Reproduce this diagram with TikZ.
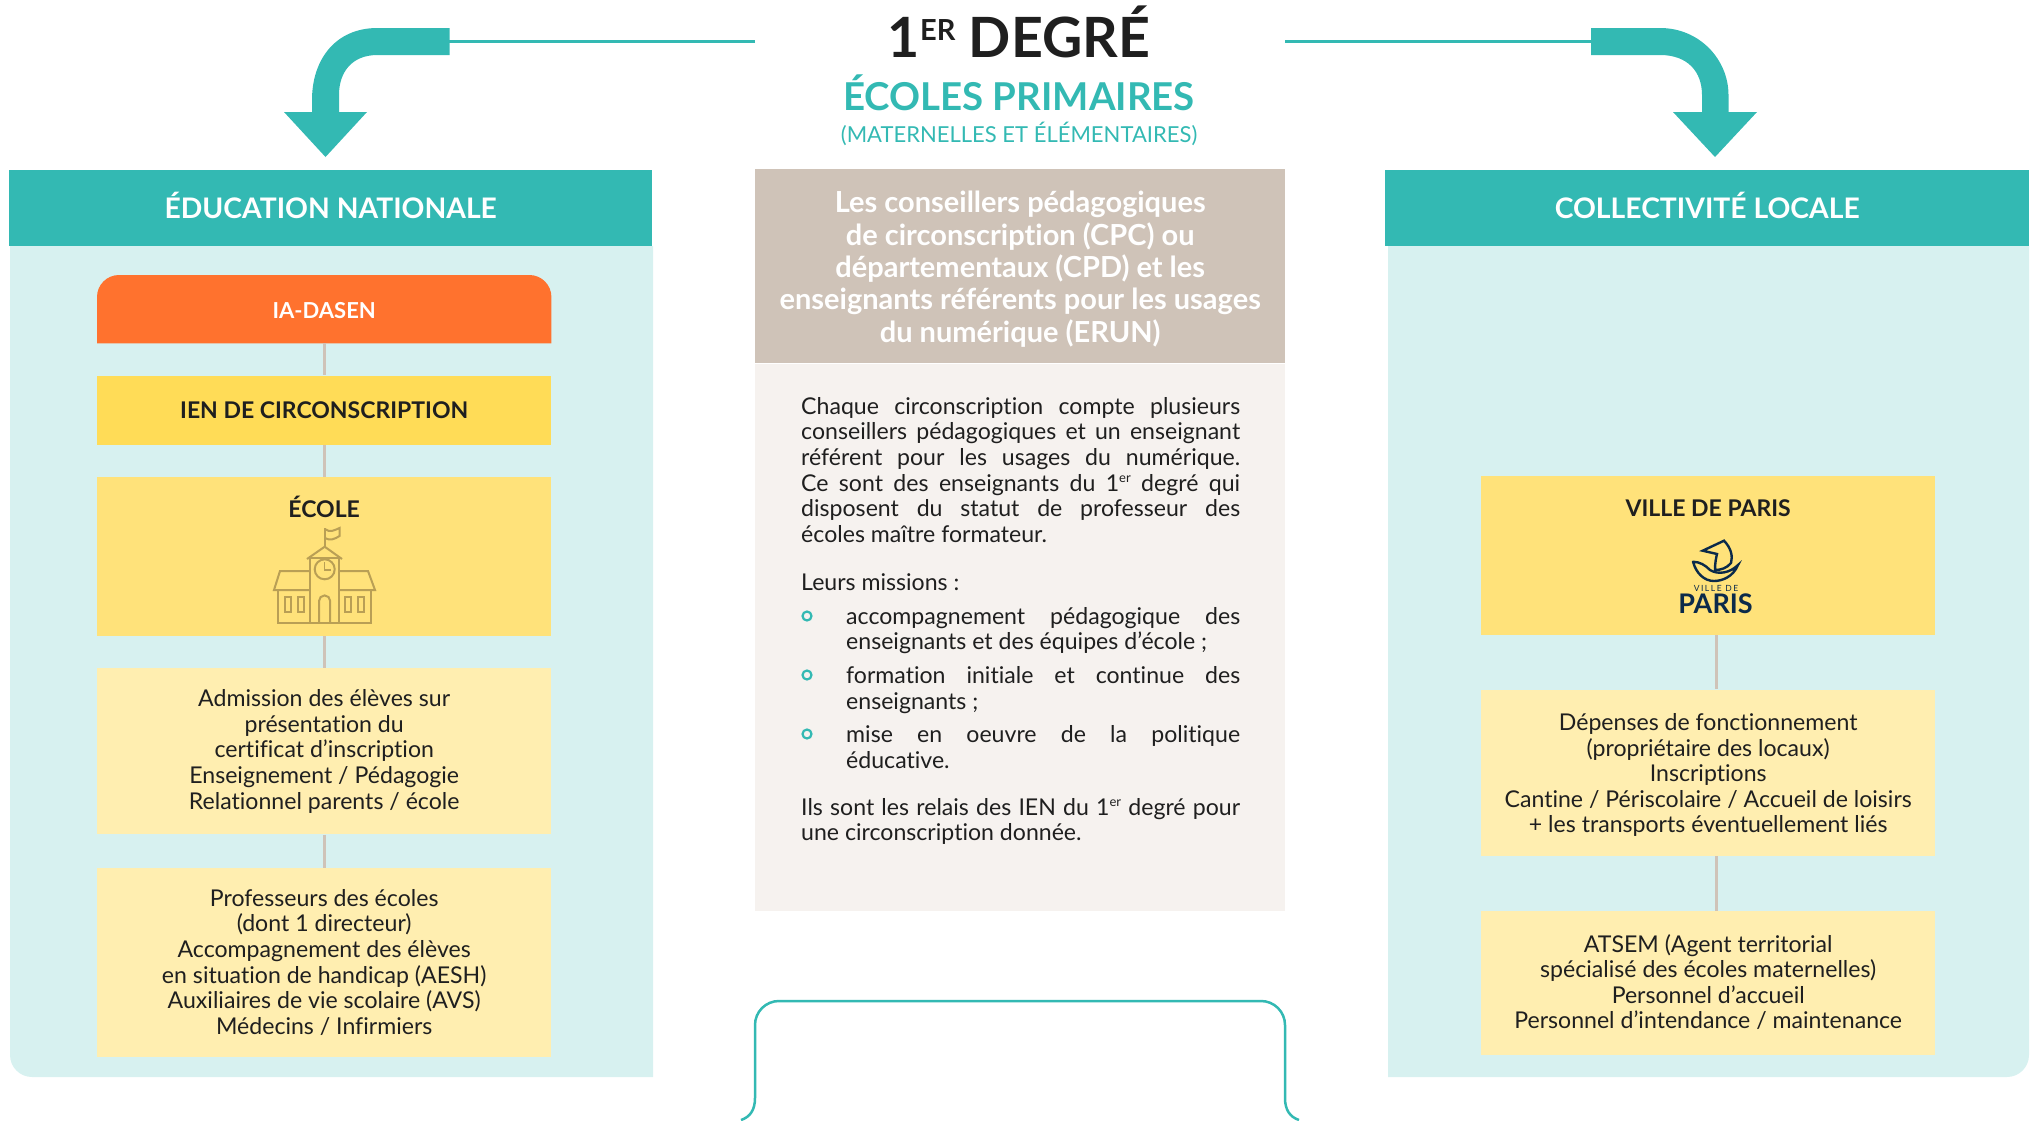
\documentclass[tikz,border=0pt]{standalone}
\usepackage{xcolor}
\usepackage{fontspec}
\usepackage{tikz}
\usetikzlibrary{positioning,calc}
\setmainfont{Lato}[Ligatures=NoCommon]

\definecolor{teal1}{HTML}{33B9B3}
\definecolor{pale1}{HTML}{D7F1F0}
\definecolor{orange1}{HTML}{FF722E}
\definecolor{yellow1}{HTML}{FFDC57}
\definecolor{yellow2}{HTML}{FFE27A}
\definecolor{yellow3}{HTML}{FFEEB0}
\definecolor{tan1}{HTML}{CFC3B8}
\definecolor{cream1}{HTML}{F6F2EF}
\definecolor{ink1}{HTML}{1F1F1F}
\definecolor{icon1}{HTML}{B99F55}
\definecolor{navy1}{HTML}{0B2A4A}

\newcommand{\expoer}{\raisebox{8.5pt}{\fontsize{13}{13}\selectfont er}}

\tikzset{
  bodyfont/.style={font=\fontsize{23.1}{25.6}\selectfont},
  headbox/.style={anchor=north west, inner sep=0pt, fill=teal1, text=white, minimum height=76pt, text height=24pt, text depth=3pt, font=\fontsize{28.3}{32}\selectfont\bfseries},
  orgbox/.style={inner sep=0pt, minimum width=454pt, text=ink1, align=center, bodyfont},
  orgtitle/.style={text=ink1, inner sep=0pt, font=\fontsize{23}{26}\selectfont\bfseries},
  trunk/.style={draw=tan1, line width=3pt},
  para/.style={anchor=north west, inner sep=0pt, text=ink1, align=justify, bodyfont},
  puce/.style={circle, draw=teal1, line width=2.2pt, inner sep=0pt, minimum size=9pt},
  schoolline/.style={draw=icon1, line width=2pt, line join=miter},
  logoline/.style={draw=navy1, line width=2.4pt, line cap=round},
}

\begin{document}
\begin{tikzpicture}[x=1pt,y=-1pt]
      \useasboundingbox (0,0) rectangle (2035,1120);

      \fill[pale1] (10,246) [rounded corners=22pt] -- (10,1077) [sharp corners] -- (653,1077) -- (653,246) -- cycle;
      \fill[pale1] (1388,246) -- (1388,1077) [rounded corners=22pt] -- (2029,1077) [sharp corners] -- (2029,246) -- cycle;

      \node[headbox, minimum width=643pt] (educnat) at (9,170) {ÉDUCATION NATIONALE};
      \node[headbox, minimum width=644pt] (collectivite) at (1385,170) {COLLECTIVITÉ LOCALE};

      \node[orgbox, anchor=north west, minimum height=68pt] (iadasen) at (97,275) {};
      \fill[orange1] (iadasen.south west) [rounded corners=22pt] -- (iadasen.north west) -- (iadasen.north east) [sharp corners] -- (iadasen.south east) -- cycle;
      \node[orgtitle, text=white, font=\fontsize{22}{26}\selectfont\bfseries] (iadasenlabel) at ([yshift=-1pt]iadasen.center) {IA-DASEN};

      \node[orgbox, below = 32pt of iadasen, minimum height=69pt, fill=yellow1, orgtitle] (ien) {IEN DE CIRCONSCRIPTION};
      \node[orgbox, below = 32pt of ien, minimum height=159pt, fill=yellow2] (ecole) {};
      \node[orgbox, below = 32pt of ecole, minimum height=166pt, fill=yellow3] (admission) {Admission des élèves sur\\présentation du\\certificat d’inscription\\Enseignement / Pédagogie\\Relationnel parents / école};
      \node[orgbox, below = 33pt of admission, minimum height=189pt, fill=yellow3] (profs) {Professeurs des écoles\\(dont 1 directeur)\\Accompagnement des élèves\\en situation de handicap (AESH)\\Auxiliaires de vie scolaire (AVS)\\Médecins / Infirmiers};
      \node[orgtitle, below = 19pt of ecole.north] (ecolelabel) {ÉCOLE};

      \draw[trunk] (iadasen) -- (ien);
      \draw[trunk] (ien) -- (ecole);
      \draw[trunk] (ecole) -- (admission);
      \draw[trunk] (admission) -- (profs);

      \draw[schoolline] (278,590) -- (278,623) -- (371,623) -- (371,590);
      \draw[schoolline] (310,623) -- (310,558) -- (339,558) -- (339,623);
      \draw[schoolline] (307,559) -- (324.7,546.7) -- (342,559);
      \draw[schoolline] (310,571) -- (280,571) -- (274,590) -- (310,590);
      \draw[schoolline] (339,571) -- (368,571) -- (375,590) -- (339,590);
      \draw[schoolline] (324.7,569.3) circle (10);
      \draw[schoolline, line width=1.5pt] (324.7,562) -- (324.7,570) -- (331,570);
      \draw[schoolline] (319,623) -- (319,601) arc (180:360:5.6) -- (330.2,623);
      \foreach \winx in {285,298,344.5,357.5}
        \draw[schoolline] (\winx,597) rectangle (\winx+6,612);
      \draw[schoolline] (324.7,546.7) -- (324.7,528);
      \draw[schoolline] (324.7,529) .. controls (330,533) and (335,530) .. (339.5,528) -- (339.5,536) .. controls (335,539) and (330,541) .. (324.7,538);

      \node[orgbox, anchor=north west, minimum height=159pt, fill=yellow2] (ville) at (1481,476) {};
      \node[orgbox, below = 54pt of ville, minimum height=166pt, fill=yellow3] (depenses) {};
      \node[orgbox, below = 55pt of depenses, minimum height=144pt, fill=yellow3] (atsem) {};
      \node[orgtitle, below = 23pt of ville.north] (villelabel) {VILLE DE PARIS};
      \node[orgbox, fill=none] (depensestexte) at ([yshift=-2.5pt]depenses.center) {Dépenses de fonctionnement\\(propriétaire des locaux)\\Inscriptions\\Cantine / Périscolaire / Accueil de loisirs\\+ les transports éventuellement liés};
      \node[orgbox, fill=none] (atsemtexte) at ([yshift=1pt]atsem.center) {ATSEM (Agent territorial\\spécialisé des écoles maternelles)\\Personnel d’accueil\\Personnel d’intendance / maintenance};

      \draw[trunk] ([xshift=8pt]ville.south) -- ([xshift=8pt]depenses.north);
      \draw[trunk] ([xshift=8pt]depenses.south) -- ([xshift=8pt]atsem.north);

      \draw[logoline] (1702.7,550.7) -- (1724,540.7) .. controls (1731,548) and (1733,556) .. (1731,563) .. controls (1727,568) and (1721,570) .. (1715,570) .. controls (1715,563) and (1716,558) .. (1717,554) -- cycle;
      \draw[logoline] (1693,561.7) .. controls (1700,562) and (1705,565) .. (1710,570) .. controls (1718,575) and (1730,573) .. (1738,565) .. controls (1733,577) and (1722,581) .. (1714,581) .. controls (1704,581) and (1696,573) .. (1693,561.7);
      \node[inner sep=0pt, text=navy1, font=\fontsize{8.5}{10}\addfontfeature{LetterSpace=18}\selectfont] (villede) at (1716,588) {VILLE DE};
      \node[inner sep=0pt, text=navy1, font=\fontsize{27}{28}\selectfont\bfseries] (parislogo) at (1715.5,604) {PARIS};

      \node[inner sep=0pt, text=ink1, font=\fontsize{55.5}{60}\selectfont\bfseries] (degre) at (1019,32) {1\raisebox{17pt}{\fontsize{29}{29}\selectfont ER} DEGRÉ};
      \node[inner sep=0pt, below = 16pt of degre, text=teal1, font=\fontsize{38.4}{42}\selectfont\bfseries] (primaires) {ÉCOLES PRIMAIRES};
      \node[inner sep=0pt, below = 11pt of primaires, text=teal1, font=\fontsize{22}{25}\selectfont] (maternelles) {(MATERNELLES ET ÉLÉMENTAIRES)};

      \coordinate (ligneg) at (755,41);
      \coordinate (ligned) at (1285,41);
      \coordinate (brasg) at (449,41);
      \coordinate (brasd) at (1592,41);
      \draw[teal1, line width=3pt] (ligneg) -- (brasg);
      \draw[teal1, line width=3pt] (ligned) -- (brasd);
      \fill[teal1] (449.5,28) -- (377.5,28) .. controls (335,28) and (312,60) .. (312,100) -- (312,112) -- (284,112) -- (325.5,157) -- (367,112) -- (339,112) -- (339,95) .. controls (339,72) and (352,55) .. (377.5,55) -- (449.5,55) -- cycle;
      \fill[teal1] (1591,28) -- (1660,28) .. controls (1700,28) and (1728.5,60) .. (1728.5,95) -- (1728.5,112) -- (1757,112) -- (1715,157) -- (1673,112) -- (1702,112) -- (1702,95) .. controls (1702,72) and (1688,55) .. (1660,55) -- (1591,55) -- cycle;

      \node[anchor=north west, inner sep=0pt, minimum width=530pt, minimum height=194pt, fill=tan1] (conseillers) at (755,169) {};
      \node[inner sep=0pt, text=white, align=center, font=\fontsize{29}{32.4}\selectfont\bfseries] (conseillerstexte) at ([yshift=-3pt]conseillers.center) {Les conseillers pédagogiques\\de circonscription (CPC) ou\\départementaux (CPD) et les\\enseignants référents pour les usages\\du numérique (ERUN)};
      \node[below = 0pt of conseillers, inner sep=0pt, minimum width=530pt, minimum height=547pt, fill=cream1] (missions) {};

      \node[para, text width=439pt] (chaque) at (801,397) {Chaque circonscription compte plusieurs\linebreak conseillers pédagogiques et un enseignant\linebreak référent pour les usages du numérique.\linebreak Ce sont des enseignants du 1\expoer{} degré qui\linebreak disposent du statut de professeur des\linebreak écoles maître formateur.};
      \node[para, below = 31pt of chaque.south west, anchor=north west] (leurs) {Leurs missions :};
      \node[para, text width=394pt] (mission1) at (846,607) {accompagnement pédagogique des\linebreak enseignants et des équipes d’école ;};
      \node[para, text width=394pt, below = 12pt of mission1] (mission2) {formation initiale et continue des\linebreak enseignants ;};
      \node[para, text width=394pt, below = 12pt of mission2] (mission3) {mise en oeuvre de la politique\linebreak éducative.};
      \node[para, text width=439pt] (relais) at (801,798) {Ils sont les relais des IEN du 1\expoer{} degré pour\linebreak une circonscription donnée.};

      \node[puce] (puce1) at (807,616) {};
      \node[puce] (puce2) at (807,675) {};
      \node[puce] (puce3) at (807,734) {};

      \draw[teal1, line width=2.5pt] (741,1120) .. controls (750,1117) and (755,1110) .. (755,1098) [rounded corners=24pt] -- (755,1001) -- (1285,1001) [sharp corners] -- (1285,1098) .. controls (1285,1110) and (1290,1117) .. (1299,1120);
\end{tikzpicture}
\end{document}
